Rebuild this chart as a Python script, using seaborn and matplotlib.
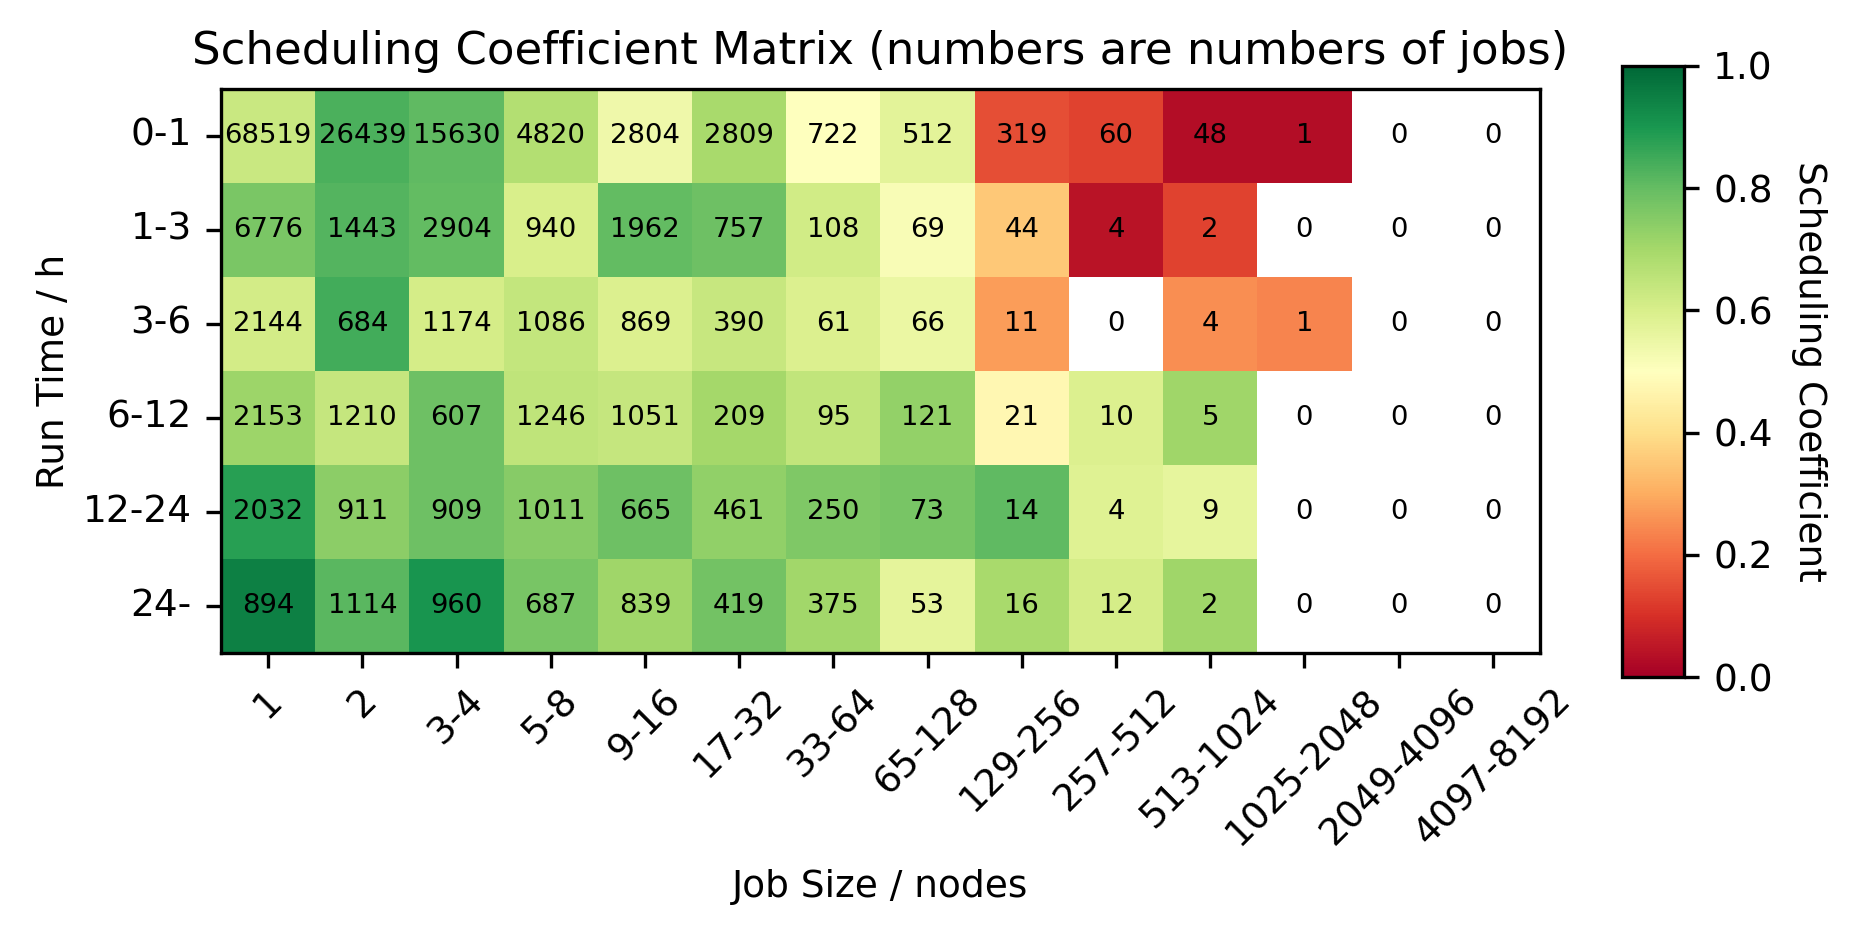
import numpy as np
import pandas as pd
import matplotlib
matplotlib.use("Agg")
import matplotlib.pyplot as plt
import seaborn as sns

# rows = run time bins, columns = job size bins
run_time = ["0-1", "1-3", "3-6", "6-12", "12-24", "24-"]
job_size = ["1", "2", "3-4", "5-8", "9-16", "17-32", "33-64", "65-128",
            "129-256", "257-512", "513-1024", "1025-2048", "2049-4096", "4097-8192"]

job_counts = [
    [68519, 26439, 15630, 4820, 2804, 2809, 722, 512, 319, 60, 48, 1, 0, 0],
    [6776, 1443, 2904, 940, 1962, 757, 108, 69, 44, 4, 2, 0, 0, 0],
    [2144, 684, 1174, 1086, 869, 390, 61, 66, 11, 0, 4, 1, 0, 0],
    [2153, 1210, 607, 1246, 1051, 209, 95, 121, 21, 10, 5, 0, 0, 0],
    [2032, 911, 909, 1011, 665, 461, 250, 73, 14, 4, 9, 0, 0, 0],
    [894, 1114, 960, 687, 839, 419, 375, 53, 16, 12, 2, 0, 0, 0],
]

nan = np.nan
# scheduling coefficient, nan where no jobs
coefficients = [
    [0.63, 0.834, 0.805, 0.675, 0.542, 0.695, 0.50, 0.574, 0.152, 0.131, 0.03, 0.03, nan, nan],
    [0.769, 0.822, 0.804, 0.60, 0.803, 0.789, 0.614, 0.516, 0.352, 0.042, 0.131, nan, nan, nan],
    [0.612, 0.847, 0.608, 0.643, 0.592, 0.633, 0.592, 0.553, 0.274, nan, 0.251, 0.237, nan, nan],
    [0.712, 0.64, 0.789, 0.649, 0.637, 0.70, 0.645, 0.728, 0.474, 0.59, 0.71, nan, nan, nan],
    [0.882, 0.741, 0.789, 0.748, 0.789, 0.731, 0.761, 0.772, 0.808, 0.584, 0.566, nan, nan, nan],
    [0.946, 0.813, 0.905, 0.772, 0.709, 0.781, 0.705, 0.568, 0.695, 0.608, 0.71, nan, nan, nan],
]

df = pd.DataFrame(coefficients, index=run_time, columns=job_size)

plt.rcParams["font.size"] = 9
fig = plt.figure(figsize=(1864 / 300, 936 / 300), dpi=300)
ax = fig.add_axes([221 / 1864, 1 - 653 / 936, 1319 / 1864, 564 / 936])
cax = fig.add_axes([1622 / 1864, 1 - 677 / 936, 62 / 1864, 611 / 936])

sns.heatmap(df, ax=ax, cbar_ax=cax, cmap="RdYlGn", vmin=0, vmax=1, annot=False)

# counts in every cell, also the empty ones
for i in range(len(run_time)):
    for j in range(len(job_size)):
        ax.text(j + 0.5, i + 0.5, str(job_counts[i][j]), ha="center", va="center",
                fontsize=6.6, color="black")

for s in ax.spines.values():
    s.set_visible(True)
    s.set_linewidth(0.8)
    s.set_color("black")

ax.set_xticklabels(job_size, rotation=45, ha="center")
ax.set_yticklabels(run_time, rotation=0)
ax.tick_params(axis="both", length=3.5, width=0.8, labelsize=9)
ax.set_xlabel("Job Size / nodes", fontsize=9, labelpad=4)
ax.set_ylabel("Run Time / h", fontsize=9, labelpad=2.5)
ax.set_title("Scheduling Coefficient Matrix (numbers are numbers of jobs)", fontsize=10.8)

cb = ax.collections[0].colorbar
cb.set_ticks([0.0, 0.2, 0.4, 0.6, 0.8, 1.0])
cb.set_ticklabels(["0.0", "0.2", "0.4", "0.6", "0.8", "1.0"])
cb.outline.set_visible(True)
cb.outline.set_linewidth(0.8)
cb.outline.set_edgecolor("black")
cb.ax.tick_params(length=3.5, width=0.8, labelsize=9)
cb.set_label("Scheduling Coefficient", rotation=270, labelpad=13, fontsize=9)

fig.savefig("out.png", dpi=300)
